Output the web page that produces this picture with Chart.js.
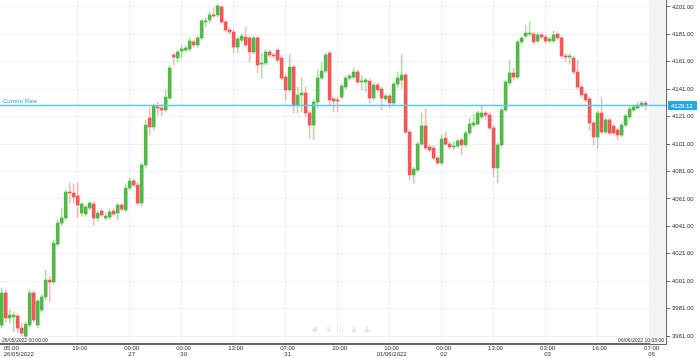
<!DOCTYPE html>
<html>
<head>
<meta charset="utf-8">
<script src="https://cdn.jsdelivr.net/npm/chart.js@4.4.1/dist/chart.umd.min.js"></script>
<style>
  html, body { margin: 0; padding: 0; background: #fff; }
  #wrap { width: 699px; height: 358px; }
</style>
</head>
<body>
<div id="wrap"><canvas id="chart" width="699" height="358"></canvas></div>
<script>
// hourly candles, 26/05/2022 05:00 -> 06/06/2022 10:00
const opens = [
  3969.0, 3992.4, 3974.2, 3975.0, 3975.6, 3966.8, 3961.0, 3969.0, 3992.4, 3969.0,
  3980.0, 3989.5, 4001.8, 4000.4, 4028.1, 4043.4, 4047.1, 4066.0, 4065.3, 4063.1,
  4050.7, 4050.0, 4054.4, 4057.3, 4047.1, 4052.2, 4047.1, 4047.8, 4052.2, 4050.7,
  4056.5, 4052.9, 4068.9, 4074.1, 4071.1, 4058.0, 4085.7, 4120.0, 4113.5, 4128.1,
  4127.3, 4125.9, 4134.6, 4166.0, 4163.8, 4168.9, 4169.6, 4170.4, 4175.5, 4173.3,
  4178.4, 4190.1, 4191.5, 4195.2, 4195.2, 4201.0, 4190.1, 4184.2, 4182.8, 4171.8,
  4176.9, 4179.1, 4178.4, 4168.2, 4178.4, 4159.4, 4160.1, 4168.2, 4166.0, 4169.6,
  4163.8, 4149.9, 4140.5, 4157.2, 4129.5, 4136.8, 4138.3, 4123.7, 4114.9, 4131.7,
  4149.2, 4154.3, 4167.4, 4133.9, 4133.2, 4135.3, 4142.6, 4149.2, 4149.9, 4153.6,
  4146.3, 4146.3, 4147.0, 4134.6, 4144.1, 4141.2, 4133.9, 4136.1, 4131.0, 4144.8,
  4147.7, 4151.4, 4109.8, 4078.5, 4082.1, 4101.0, 4114.2, 4098.9, 4098.1, 4090.8,
  4087.2, 4105.4, 4101.0, 4098.9, 4099.6, 4104.0, 4100.4, 4109.1, 4114.9, 4115.7,
  4120.8, 4123.7, 4122.2, 4112.7, 4083.6, 4100.4, 4125.9, 4145.6, 4152.9, 4149.9,
  4175.5, 4179.8, 4181.3, 4181.3, 4176.2, 4180.6, 4179.1, 4176.2, 4176.2, 4181.3,
  4178.4, 4165.3, 4164.5, 4163.8, 4153.6, 4142.6, 4137.5, 4133.9, 4116.4, 4106.2,
  4123.7, 4109.8, 4118.6, 4114.2, 4111.3, 4107.6, 4114.9, 4120.8, 4125.9, 4127.3,
  4129.5, 4130.9
];
const highs = [
  3996.0, 3994.6, 3980.0, 3978.5, 3977.0, 3970.5, 3971.2, 3994.6, 3993.8, 3988.0,
  3991.6, 4009.1, 4004.8, 4031.0, 4045.6, 4054.4, 4067.5, 4072.6, 4071.9, 4072.6,
  4058.8, 4056.5, 4059.5, 4058.8, 4052.2, 4053.7, 4050.7, 4053.7, 4053.7, 4058.0,
  4058.0, 4071.9, 4076.3, 4075.5, 4072.6, 4087.2, 4118.6, 4127.3, 4130.2, 4131.7,
  4130.2, 4140.5, 4158.0, 4167.4, 4169.6, 4173.3, 4172.5, 4178.4, 4176.9, 4179.8,
  4192.2, 4193.0, 4197.3, 4200.3, 4203.2, 4201.7, 4191.5, 4185.7, 4184.2, 4179.1,
  4181.3, 4186.4, 4179.8, 4179.8, 4179.8, 4167.4, 4169.6, 4169.6, 4167.4, 4171.1,
  4165.3, 4151.4, 4166.0, 4158.7, 4142.6, 4149.2, 4142.6, 4125.1, 4133.2, 4155.0,
  4160.1, 4167.4, 4168.9, 4135.3, 4135.3, 4144.8, 4150.7, 4152.1, 4156.5, 4155.0,
  4150.7, 4149.2, 4148.5, 4145.6, 4145.6, 4142.6, 4137.5, 4137.5, 4146.3, 4153.6,
  4166.0, 4152.9, 4111.3, 4084.3, 4102.5, 4123.7, 4127.3, 4100.4, 4099.6, 4092.3,
  4107.6, 4109.8, 4102.5, 4102.5, 4104.7, 4105.4, 4110.5, 4120.0, 4122.9, 4125.1,
  4129.5, 4125.1, 4123.7, 4114.2, 4101.8, 4127.3, 4147.7, 4162.3, 4156.5, 4176.9,
  4179.8, 4187.9, 4190.1, 4182.8, 4182.0, 4182.0, 4180.6, 4179.1, 4183.5, 4182.8,
  4179.8, 4166.7, 4166.7, 4165.3, 4162.3, 4144.1, 4139.0, 4135.3, 4117.8, 4125.1,
  4134.6, 4120.0, 4120.0, 4115.7, 4112.7, 4116.4, 4122.9, 4128.1, 4129.5, 4131.7,
  4132.4, 4132.4
];
const lows = [
  3966.9, 3971.2, 3970.5, 3964.0, 3963.2, 3961.0, 3959.6, 3967.6, 3971.2, 3966.9,
  3978.5, 3987.3, 3985.8, 3998.9, 4026.6, 4041.3, 4045.6, 4058.0, 4058.0, 4047.8,
  4048.5, 4048.5, 4052.9, 4042.0, 4044.9, 4047.8, 4045.6, 4046.3, 4048.5, 4045.6,
  4052.2, 4051.5, 4067.5, 4069.7, 4056.5, 4055.8, 4083.6, 4107.6, 4111.3, 4122.2,
  4121.5, 4124.4, 4133.2, 4158.7, 4160.9, 4163.8, 4168.2, 4168.9, 4171.8, 4171.8,
  4176.9, 4186.4, 4189.3, 4193.7, 4193.7, 4188.6, 4182.8, 4181.3, 4167.4, 4167.4,
  4175.5, 4171.8, 4160.9, 4166.7, 4152.9, 4149.2, 4158.7, 4164.5, 4163.8, 4160.9,
  4147.7, 4133.2, 4139.0, 4123.7, 4123.7, 4124.4, 4120.8, 4105.4, 4104.0, 4127.3,
  4147.7, 4152.9, 4129.5, 4124.4, 4124.4, 4133.9, 4141.2, 4147.7, 4148.5, 4144.8,
  4140.5, 4139.0, 4131.0, 4133.2, 4139.0, 4125.9, 4132.4, 4127.3, 4129.5, 4142.6,
  4141.9, 4108.4, 4074.8, 4072.6, 4080.6, 4099.6, 4096.7, 4095.2, 4089.4, 4085.7,
  4085.7, 4099.6, 4097.4, 4096.7, 4098.1, 4093.0, 4098.9, 4107.6, 4113.5, 4114.2,
  4119.3, 4118.6, 4111.3, 4077.0, 4072.6, 4098.9, 4124.4, 4144.1, 4147.7, 4148.5,
  4174.0, 4178.4, 4179.8, 4174.0, 4174.7, 4177.7, 4174.7, 4174.7, 4174.7, 4176.9,
  4163.8, 4160.9, 4159.4, 4152.1, 4141.2, 4135.3, 4131.7, 4111.3, 4100.4, 4098.1,
  4108.4, 4108.4, 4107.6, 4107.6, 4104.0, 4106.2, 4113.5, 4119.3, 4124.4, 4126.6,
  4128.1, 4125.9
];
const closes = [
  3992.4, 3974.2, 3976.3, 3976.3, 3966.8, 3963.2, 3969.7, 3992.4, 3972.7, 3986.5,
  3989.5, 4001.8, 4000.4, 4028.8, 4043.4, 4047.1, 4066.0, 4065.3, 4062.4, 4056.5,
  4057.3, 4055.1, 4058.0, 4047.1, 4050.7, 4049.3, 4048.5, 4051.5, 4050.0, 4056.5,
  4053.6, 4068.9, 4074.1, 4071.1, 4058.0, 4085.7, 4114.9, 4113.5, 4128.8, 4127.3,
  4125.9, 4135.3, 4156.5, 4164.5, 4168.2, 4170.4, 4171.1, 4176.2, 4173.3, 4178.4,
  4190.8, 4190.8, 4195.2, 4194.4, 4201.7, 4190.1, 4184.2, 4182.8, 4171.8, 4177.7,
  4179.8, 4173.3, 4168.2, 4178.4, 4158.7, 4160.1, 4168.2, 4166.0, 4165.3, 4162.3,
  4149.2, 4140.5, 4157.2, 4129.5, 4136.8, 4138.3, 4123.7, 4114.9, 4131.7, 4149.2,
  4154.3, 4166.0, 4133.2, 4132.4, 4132.4, 4143.4, 4149.2, 4150.7, 4153.6, 4146.3,
  4147.0, 4147.7, 4134.6, 4144.1, 4140.5, 4134.6, 4136.1, 4131.0, 4144.8, 4149.2,
  4151.4, 4109.8, 4078.5, 4082.8, 4101.0, 4114.2, 4098.1, 4096.7, 4090.8, 4087.2,
  4104.7, 4101.0, 4098.9, 4099.6, 4103.3, 4100.4, 4109.1, 4115.7, 4116.4, 4123.7,
  4123.7, 4122.2, 4112.7, 4083.6, 4100.4, 4125.9, 4146.3, 4152.9, 4149.9, 4175.5,
  4178.4, 4182.0, 4182.0, 4175.5, 4180.6, 4179.1, 4176.2, 4177.7, 4180.6, 4178.4,
  4165.3, 4164.5, 4165.3, 4153.6, 4142.6, 4136.8, 4133.2, 4116.4, 4106.2, 4123.7,
  4109.8, 4118.6, 4109.1, 4109.1, 4107.6, 4114.9, 4121.5, 4126.6, 4128.1, 4129.5,
  4130.9, 4129.12
];

// axis labels
const priceTicks = [3961, 3981, 4001, 4021, 4041, 4061, 4081, 4101, 4121, 4141, 4161, 4181, 4201];
const timeTickIndex = [0, 19, 32, 45, 58, 71, 84, 97, 110, 123, 136, 149, 162];
const timeTickLabels = [
  ['05:00', '26/05/2022'], '19:00', ['09:00', '27'], ['00:00', '30'], '13:00',
  ['07:00', '31'], '20:00', ['10:00', '01/06/2022'], ['00:00', '02'], '13:00',
  ['03:00', '03'], '16:00', ['07:00', '06']
];
const currentRate = 4129.12;
const rangeStart = '26/05/2022 00:00:00';
const rangeEnd = '06/06/2022 10:03:00';

// visible window
const X_MIN = -0.43, X_MAX = 166.1, FUTURE_FROM = 162.2;
const Y_MIN = 3955.2, Y_MAX = 4206.1;

const FONT = '"Liberation Sans", Arial, sans-serif';
const UP = '#52b848', DOWN = '#f0585a';
const UP_WICK = 'rgba(82,184,72,0.45)', DOWN_WICK = 'rgba(240,88,90,0.4)';
const RATE = '#5cc6ee';

const idx = opens.map((_, i) => i);
const isUp = idx.map(i => closes[i] >= opens[i]);

const overlay = {
  id: 'overlay',
  beforeDatasetsDraw(chart) {
    const { ctx, chartArea: a, scales: { x } } = chart;
    const left = x.getPixelForValue(FUTURE_FROM);
    ctx.save();
    ctx.fillStyle = '#f3f3f3';
    ctx.fillRect(left, a.top, a.right - left, a.bottom - a.top);
    // faint toolbar icons
    ctx.fillStyle = '#e6e6e6';
    ctx.font = '8px "DejaVu Sans"';
    ctx.textAlign = 'center';
    ctx.textBaseline = 'middle';
    ['◆', '⊕', '⊖', '♟', '♟'].forEach((g, k) => ctx.fillText(g, 315 + k * 13, 330));
    ctx.restore();
  },
  afterDraw(chart) {
    const { ctx, chartArea: a, scales: { y } } = chart;
    const py = y.getPixelForValue(currentRate);
    ctx.save();
    ctx.strokeStyle = RATE;
    ctx.lineWidth = 1.5;
    ctx.beginPath();
    ctx.moveTo(a.left, py);
    ctx.lineTo(a.right, py);
    ctx.stroke();

    ctx.font = '6px ' + FONT;
    ctx.fillStyle = '#2fa9e0';
    ctx.textBaseline = 'bottom';
    ctx.fillText('Current Rate', 3, py - 1);

    ctx.fillStyle = '#22aae8';
    ctx.fillRect(a.right + 2, py - 4.5, 29, 9);
    ctx.fillStyle = '#fff';
    ctx.textBaseline = 'middle';
    ctx.fillText(currentRate.toFixed(2), a.right + 5, py + 0.5);

    ctx.font = '5px ' + FONT;
    ctx.fillStyle = '#333';
    ctx.textBaseline = 'bottom';
    ctx.fillText(rangeStart, 2, a.bottom - 1);
    ctx.textAlign = 'right';
    ctx.fillText(rangeEnd, a.right - 2, a.bottom - 1);
    ctx.restore();
  }
};

new Chart(document.getElementById('chart'), {
  type: 'bar',
  data: {
    datasets: [
      {
        label: 'wick',
        data: idx.map(i => ({ x: i, y: [lows[i], highs[i]] })),
        backgroundColor: isUp.map(u => (u ? UP_WICK : DOWN_WICK)),
        barThickness: 1,
        grouped: false,
        order: 2
      },
      {
        label: 'body',
        data: idx.map(i => ({ x: i, y: [opens[i], closes[i]] })),
        backgroundColor: isUp.map(u => (u ? UP : DOWN)),
        barThickness: 3,
        minBarLength: 1,
        grouped: false,
        order: 1
      }
    ]
  },
  options: {
    responsive: false,
    animation: false,
    devicePixelRatio: 1,
    layout: { padding: 0 },
    plugins: { legend: { display: false }, tooltip: { enabled: false } },
    scales: {
      x: {
        type: 'linear',
        min: X_MIN,
        max: X_MAX,
        bounds: 'data',
        offset: false,
        grid: {
          offset: false,
          drawTicks: false,
          color: ctx => (ctx.index === 0 ? 'rgba(0,0,0,0)' : '#f1f1f1')
        },
        border: { color: '#666', width: 2 },
        afterBuildTicks: s => {
          s.ticks = timeTickIndex.map(v => ({ value: v })).concat([{ value: X_MAX }]);
        },
        afterFit: s => { s.height = 14; },
        ticks: {
          autoSkip: false,
          maxRotation: 0,
          align: 'inner',
          labelOffset: 2,
          padding: 1,
          color: '#333',
          font: { family: FONT, size: 6, lineHeight: 1 },
          callback: (v, i) => timeTickLabels[i] || ''
        }
      },
      y: {
        position: 'right',
        min: Y_MIN,
        max: Y_MAX,
        bounds: 'data',
        grid: { color: '#f1f1f1', tickColor: '#666', tickLength: 4 },
        border: { color: '#666', width: 2 },
        afterBuildTicks: s => { s.ticks = priceTicks.map(v => ({ value: v })); },
        afterFit: s => {
          s.width = 33;
          s.paddingTop = 0;
          s.paddingBottom = 0;
        },
        ticks: {
          padding: 2,
          color: '#333',
          font: { family: FONT, size: 6 },
          callback: v => v.toFixed(2)
        }
      }
    }
  },
  plugins: [overlay]
});
</script>
</body>
</html>
